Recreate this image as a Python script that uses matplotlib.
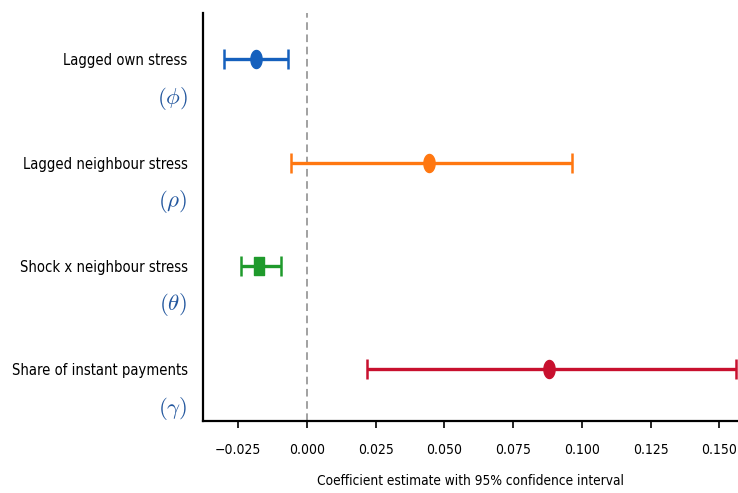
import numpy as np
import matplotlib
matplotlib.use("Agg")
import matplotlib.pyplot as plt
from matplotlib.path import Path

# Coefficient estimates and 95% confidence bounds
labels = ["Lagged own stress", "Lagged neighbour stress",
          "Shock x neighbour stress", "Share of instant payments"]
symbols = [r"$(\phi)$", r"$(\rho)$", r"$(\theta)$", r"$(\gamma)$"]
estimates = [-0.0186, 0.0445, -0.0173, 0.0880]
lower = [-0.0302, -0.0058, -0.0238, 0.0218]
upper = [-0.0070, 0.0963, -0.0095, 0.1561]
colors = ["#1560bd", "#ff7710", "#1f9a2c", "#c8102e"]
xticks = [-0.025, 0.000, 0.025, 0.050, 0.075, 0.100, 0.125, 0.150]

plt.rcParams["font.family"] = ["DejaVu Sans"]
plt.rcParams["font.stretch"] = "condensed"
plt.rcParams["mathtext.fontset"] = "cm"

# narrow marker shapes
t = np.linspace(0, 2 * np.pi, 64)
ellipse = Path(np.column_stack([0.62 * np.cos(t), np.sin(t)]), closed=True)
rect = Path([(-0.3, -0.5), (0.3, -0.5), (0.3, 0.5), (-0.3, 0.5), (-0.3, -0.5)], closed=True)
markers = [ellipse, ellipse, rect, ellipse]

fig = plt.figure(figsize=(7.38, 4.93), dpi=100)
ax = fig.add_axes([0.275, 0.146, 0.725, 0.828])

n = len(labels)
ypos = np.arange(n)[::-1]

ax.axvline(0, color="#888888", lw=1.1, ls=(0, (5, 3)), zorder=1)

for i in range(n):
    err = [[estimates[i] - lower[i]], [upper[i] - estimates[i]]]
    ax.errorbar([estimates[i]], [ypos[i]], xerr=err, fmt="none",
                ecolor=colors[i], elinewidth=2.4, capsize=7, capthick=1.8, zorder=2)
    ax.plot([estimates[i]], [ypos[i]], marker=markers[i], ms=13,
            color=colors[i], ls="none", zorder=3)
    ax.annotate(symbols[i], xy=(0, ypos[i]), xycoords=("axes fraction", "data"),
                xytext=(-11, -28), textcoords="offset points",
                ha="right", va="center", fontsize=16.5, color="#23579e")

ax.set_yticks(ypos)
ax.set_yticklabels(labels, fontsize=10.6)
ax.tick_params(axis="y", length=0, pad=11)
ax.set_ylim(-0.5, 3.45)

ax.set_xticks(xticks)
ax.set_xticklabels([f"{v:.3f}".replace("-", "\u2212") for v in xticks], fontsize=10)
ax.tick_params(axis="x", length=5, width=1.2, pad=11)
ax.set_xlim(-0.0378, 0.1568)
ax.set_xlabel("Coefficient estimate with 95% confidence interval", fontsize=9.8, labelpad=12)

for side in ["top", "right"]:
    ax.spines[side].set_visible(False)
for side in ["left", "bottom"]:
    ax.spines[side].set_linewidth(1.6)

fig.savefig("out.png", dpi=100)
